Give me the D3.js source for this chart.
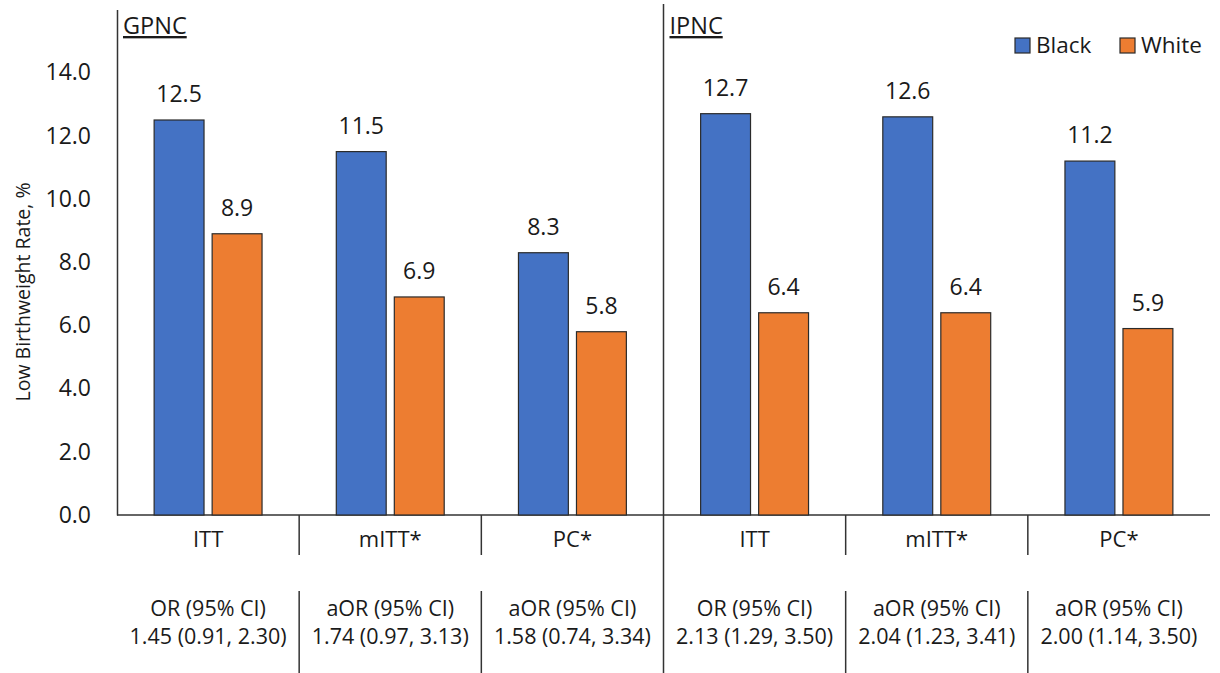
<!DOCTYPE html>
<html>
<head>
<meta charset="utf-8">
<script src="https://cdn.jsdelivr.net/npm/d3@7"></script>
<style>
  body { margin: 0; background: #fff; }
  text { font-family: "Open Sans", "Noto Sans", sans-serif; fill: #1a1a1a; }
</style>
</head>
<body>
<script>
// Datos del gráfico
const panels = ["GPNC", "IPNC"];
const analyses = ["ITT", "mITT*", "PC*"];
const series = ["Black", "White"];
const blackValues = [12.5, 11.5, 8.3, 12.7, 12.6, 11.2];
const whiteValues = [8.9, 6.9, 5.8, 6.4, 6.4, 5.9];
const ciHeaders = ["OR (95% CI)", "aOR (95% CI)", "aOR (95% CI)", "OR (95% CI)", "aOR (95% CI)", "aOR (95% CI)"];
const ciValues = ["1.45 (0.91, 2.30)", "1.74 (0.97, 3.13)", "1.58 (0.74, 3.34)",
                  "2.13 (1.29, 3.50)", "2.04 (1.23, 3.41)", "2.00 (1.14, 3.50)"];
const yTicks = [0, 2, 4, 6, 8, 10, 12, 14];

const WIDTH = 1220;
const HEIGHT = 673;
const MARGIN = { top: 10, bottom: 158, left: 117, right: 10 };
const BASE = HEIGHT - MARGIN.bottom;

const COLORS = { Black: "#4472C4", White: "#ED7D31" };
const LINEA = "#333";

const svg = d3.select("body").append("svg")
  .attr("width", WIDTH)
  .attr("height", HEIGHT);

// Una categoría por panel y análisis
const categorias = [];
panels.forEach((p, i) => analyses.forEach((a, j) => {
  const k = i * analyses.length + j;
  categorias.push({ id: p + "-" + a, panel: p, analisis: a,
    Black: blackValues[k], White: whiteValues[k], header: ciHeaders[k], ci: ciValues[k] });
}));

const escalaX = d3.scaleBand()
  .domain(categorias.map(d => d.id))
  .range([MARGIN.left, WIDTH - MARGIN.right])
  .padding(0);

const escalaSerie = d3.scaleBand()
  .domain(series)
  .range([0, escalaX.bandwidth()])
  .paddingInner(0.14)
  .paddingOuter(0.64);

const escalaY = d3.scaleLinear()
  .domain([0, 16])
  .range([BASE, BASE - 16 * 31.6]);

// Eje Y (sin marcas)
const ejeY = d3.axisLeft(escalaY)
  .tickValues(yTicks)
  .tickFormat(d3.format(".1f"))
  .tickSize(0)
  .tickPadding(26);

svg.append("g")
  .attr("transform", `translate(${MARGIN.left},0)`)
  .call(ejeY)
  .call(g => g.select(".domain").attr("stroke", LINEA).attr("stroke-width", 1.5))
  .selectAll("text")
  .attr("font-size", 23)
  .attr("font-family", "Open Sans")
  .attr("fill", "#1a1a1a");

// Eje X (línea base)
svg.append("line")
  .attr("x1", MARGIN.left).attr("x2", WIDTH - MARGIN.right)
  .attr("y1", BASE).attr("y2", BASE)
  .attr("stroke", LINEA).attr("stroke-width", 1.5);

// Título eje Y
svg.append("text")
  .attr("transform", `translate(30, 292) rotate(-90)`)
  .attr("text-anchor", "middle")
  .attr("font-size", 19.5)
  .text("Low Birthweight Rate, %");

// Barras
const grupos = svg.selectAll("g.grupo")
  .data(categorias)
  .join("g")
  .attr("class", "grupo")
  .attr("transform", d => `translate(${escalaX(d.id)},0)`);

grupos.selectAll("rect")
  .data(d => series.map(s => ({ serie: s, valor: d[s] })))
  .join("rect")
  .attr("x", d => escalaSerie(d.serie))
  .attr("width", escalaSerie.bandwidth())
  .attr("y", d => escalaY(d.valor))
  .attr("height", d => BASE - escalaY(d.valor))
  .attr("fill", d => COLORS[d.serie])
  .attr("stroke", "#2b2b2b")
  .attr("stroke-width", 1.2);

grupos.selectAll("text.valor")
  .data(d => series.map(s => ({ serie: s, valor: d[s] })))
  .join("text")
  .attr("class", "valor")
  .attr("x", d => escalaSerie(d.serie) + escalaSerie.bandwidth() / 2)
  .attr("y", d => escalaY(d.valor) - 18)
  .attr("text-anchor", "middle")
  .attr("font-size", 23)
  .text(d => d.valor.toFixed(1));

// Etiquetas de categoría y tabla de OR
grupos.append("text")
  .attr("x", escalaX.bandwidth() / 2)
  .attr("y", BASE + 32)
  .attr("text-anchor", "middle")
  .attr("font-size", 22)
  .text(d => d.analisis);

grupos.append("text")
  .attr("x", escalaX.bandwidth() / 2)
  .attr("y", 616)
  .attr("text-anchor", "middle")
  .attr("font-size", 21.5)
  .text(d => d.header);

grupos.append("text")
  .attr("x", escalaX.bandwidth() / 2)
  .attr("y", 644)
  .attr("text-anchor", "middle")
  .attr("font-size", 21.5)
  .text(d => d.ci);

// Divisores
categorias.slice(1).forEach((d) => {
  const x = escalaX(d.id);
  if (d.analisis === analyses[0]) {
    svg.append("line").attr("x1", x).attr("x2", x)
      .attr("y1", 4).attr("y2", HEIGHT)
      .attr("stroke", LINEA).attr("stroke-width", 1.5);
  } else {
    svg.append("line").attr("x1", x).attr("x2", x)
      .attr("y1", BASE).attr("y2", BASE + 40)
      .attr("stroke", LINEA).attr("stroke-width", 1.5);
    svg.append("line").attr("x1", x).attr("x2", x)
      .attr("y1", 591).attr("y2", HEIGHT)
      .attr("stroke", LINEA).attr("stroke-width", 1.5);
  }
});

// Títulos de panel subrayados
panels.forEach((p) => {
  const x0 = escalaX(p + "-" + analyses[0]);
  svg.append("text")
    .attr("x", x0 + 6)
    .attr("y", 34)
    .attr("font-size", 23.5)
    .attr("text-decoration", "underline")
    .text(p);
});

// Leyenda
const leyenda = svg.append("g").attr("transform", "translate(1015, 38)");
const itemX = [0, 105];
series.forEach((s, i) => {
  const g = leyenda.append("g").attr("transform", `translate(${itemX[i]},0)`);
  g.append("rect").attr("width", 15).attr("height", 15)
    .attr("fill", COLORS[s]).attr("stroke", "#2b2b2b").attr("stroke-width", 1.2);
  g.append("text").attr("x", 21).attr("y", 15)
    .attr("font-size", 22.5).text(s);
});
</script>
</body>
</html>
